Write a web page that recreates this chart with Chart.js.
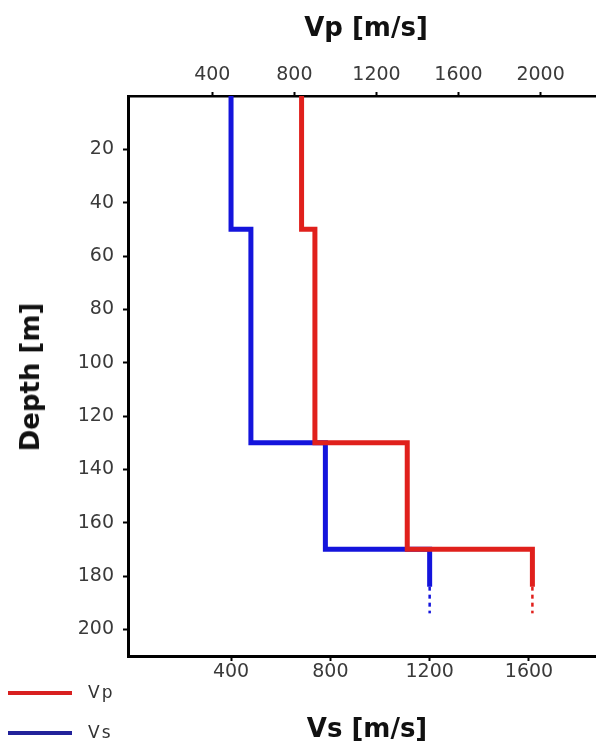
<!DOCTYPE html>
<html>
<head>
<meta charset="utf-8">
<script src="https://cdn.jsdelivr.net/npm/chart.js@4"></script>
<style>
  body { margin: 0; background: #fff; }
  #wrap { position: relative; width: 596px; height: 744px; overflow: hidden; }
  .title { position: absolute; font-family: "DejaVu Sans", sans-serif; font-weight: bold; font-size: 26px; line-height: 26px; color: #111; white-space: nowrap; }
  .legline { position: absolute; left: 8px; width: 64px; height: 4px; }
  .legtext { position: absolute; left: 88px; font-family: "DejaVu Sans", sans-serif; font-size: 17px; line-height: 17px; letter-spacing: 2px; color: #333; }
</style>
</head>
<body>
<div id="wrap">
  <canvas id="myChart" width="596" height="744"></canvas>
  <div class="title" id="topTitle" style="left:366px; top:14px; transform:translateX(-50%);">Vp [m/s]</div>
  <div class="title" id="bottomTitle" style="left:367px; top:715px; transform:translateX(-50%);">Vs [m/s]</div>
  <div class="title" id="leftTitle" style="left:30px; top:377px; transform:translate(-50%,-50%) rotate(-90deg);">Depth [m]</div>
  <div class="legline" style="top:691px; background:#d82020;"></div>
  <div class="legtext" style="top:684px;">Vp</div>
  <div class="legline" style="top:731px; background:#22229a;"></div>
  <div class="legtext" style="top:724px;">Vs</div>
</div>
<script>
// layer data (depth to top of each layer, in m)
const depthTops = [0, 50, 130, 170];
const depthSolidEnd = 184;
const depthDottedEnd = 194;
const vsValues = [400, 480, 780, 1200];
const vpValues = [835, 900, 1350, 1960];

// tick labels
const vsTicks = [400, 800, 1200, 1600];
const vpTicks = [400, 800, 1200, 1600, 2000];
const depthTicks = [20, 40, 60, 80, 100, 120, 140, 160, 180, 200];

const RED = '#e0201c';
const BLUE = '#1414dc';

function profile(values) {
    const pts = values.map((v, i) => ({ x: v, y: depthTops[i] }));
    pts.push({ x: values[values.length - 1], y: depthSolidEnd });
    return pts;
}
function tail(values) {
    const last = values[values.length - 1];
    return [{ x: last, y: depthSolidEnd }, { x: last, y: depthDottedEnd }];
}
function fixTicks(list) {
    return function (scale) { scale.ticks = list.map(v => ({ value: v })); };
}
const plain = v => String(v);

const tickFont = { family: 'DejaVu Sans', size: 19 };
const gridOpts = { display: true, drawOnChartArea: false, drawTicks: true, tickLength: 5, tickWidth: 2, tickColor: '#000' };

const ctx = document.getElementById('myChart').getContext('2d');
const myChart = new Chart(ctx, {
    type: 'line',
    data: {
        datasets: [
            { label: 'Vp', data: profile(vpValues), xAxisID: 'x2', yAxisID: 'y', borderColor: RED, borderWidth: 5, stepped: 'after' },
            { label: 'Vs', data: profile(vsValues), xAxisID: 'x', yAxisID: 'y', borderColor: BLUE, borderWidth: 5, stepped: 'after' },
            { label: 'Vp tail', data: tail(vpValues), xAxisID: 'x2', yAxisID: 'y', borderColor: RED, borderWidth: 2.5, borderDash: [4, 4] },
            { label: 'Vs tail', data: tail(vsValues), xAxisID: 'x', yAxisID: 'y', borderColor: BLUE, borderWidth: 2.5, borderDash: [4, 4] }
        ]
    },
    options: {
        responsive: false,
        animation: false,
        layout: { padding: 0 },
        elements: {
            point: { radius: 0 },
            line: { fill: false, tension: 0, borderJoinStyle: 'miter', borderCapStyle: 'butt' }
        },
        plugins: { legend: { display: false }, tooltip: { enabled: false } },
        scales: {
            x: {
                type: 'linear', position: 'bottom', min: -15, max: 1870,
                afterBuildTicks: fixTicks(vsTicks),
                afterFit: function (s) { s.height = 88; s.paddingLeft = 0; s.paddingRight = 0; },
                ticks: { font: tickFont, color: '#3a3a3a', padding: 0, callback: plain },
                grid: gridOpts,
                border: { display: true, color: '#000', width: 3 }
            },
            x2: {
                type: 'linear', position: 'top', min: -11, max: 2270,
                afterBuildTicks: fixTicks(vpTicks),
                afterFit: function (s) { s.height = 96; s.paddingLeft = 0; s.paddingRight = 0; },
                ticks: { font: tickFont, color: '#3a3a3a', padding: 6, callback: plain },
                grid: Object.assign({}, gridOpts, { tickLength: 4 }),
                border: { display: true, color: '#000', width: 2.5 }
            },
            y: {
                type: 'linear', position: 'left', reverse: true, min: 0, max: 210,
                afterBuildTicks: fixTicks(depthTicks),
                afterFit: function (s) { s.width = 128; s.paddingTop = 0; s.paddingBottom = 0; },
                ticks: { font: tickFont, color: '#3a3a3a', padding: 9, callback: plain },
                grid: gridOpts,
                border: { display: true, color: '#000', width: 3 }
            }
        }
    }
});
</script>
</body>
</html>
